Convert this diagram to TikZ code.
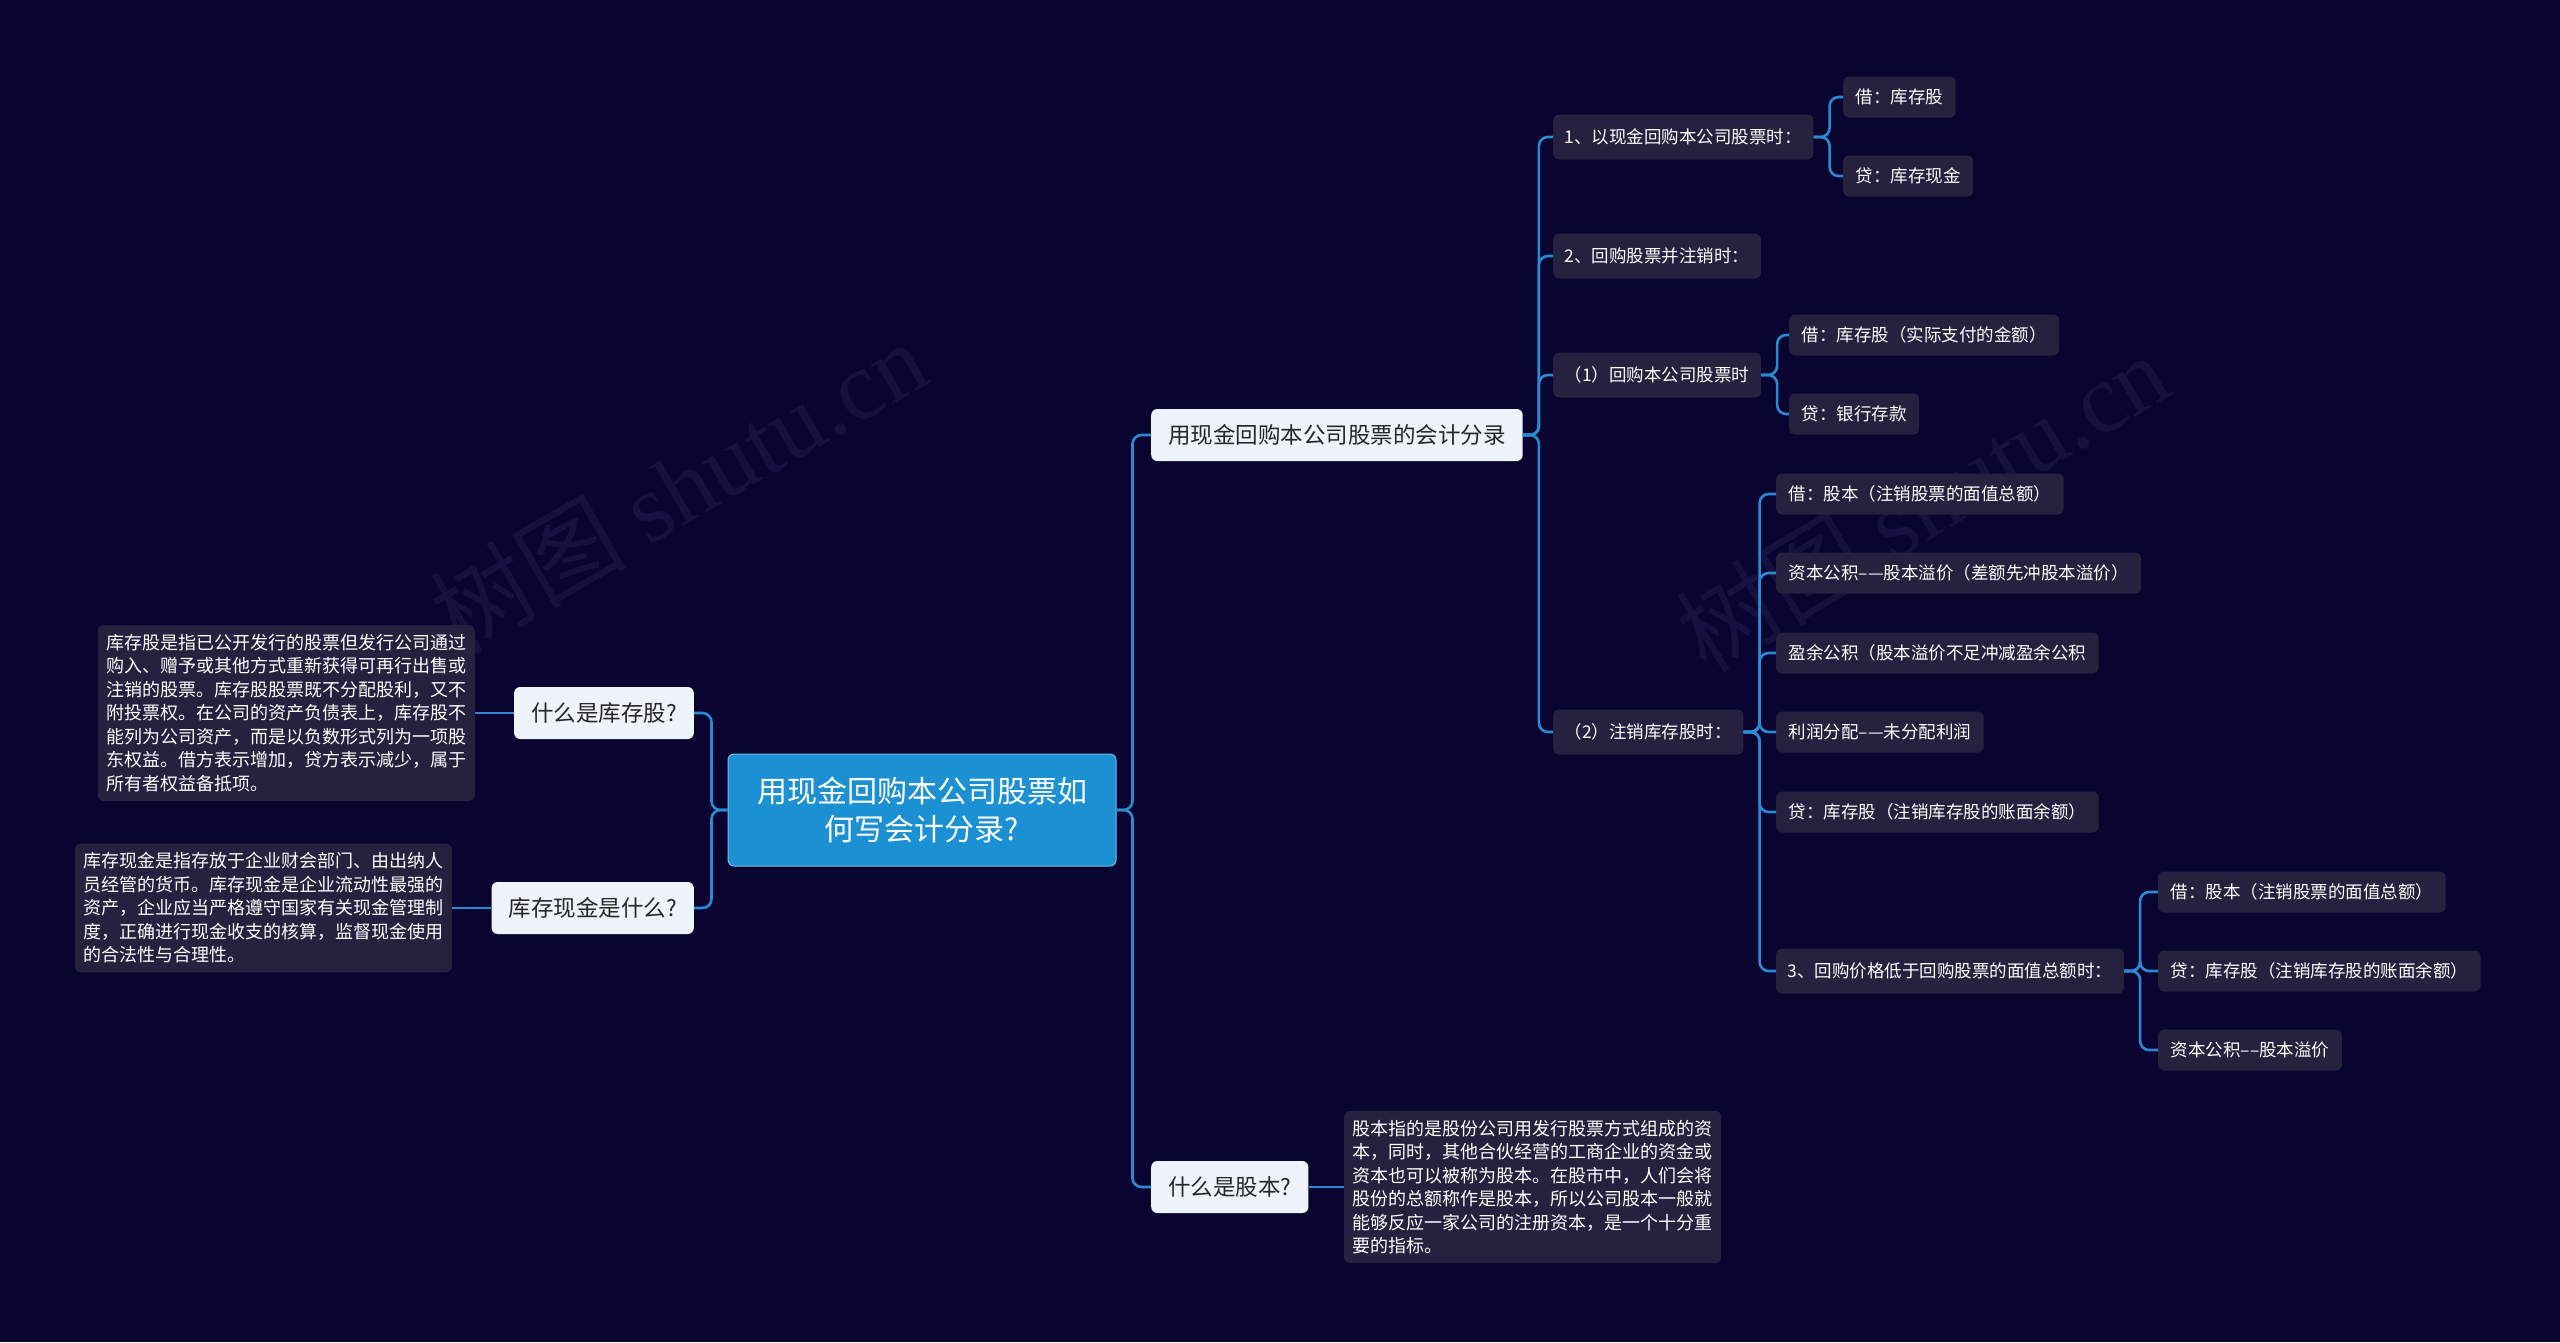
\documentclass[tikz,border=0pt]{standalone}
\usepackage{fontspec}
\setmainfont{Noto Sans CJK SC}
\newfontfamily\wmserif{Liberation Serif}
\usepackage{xcolor}

\definecolor{bgnavy}{HTML}{0A0530}
\definecolor{linkblue}{HTML}{2A8AD2}
\definecolor{rootblue}{HTML}{1B91D3}
\definecolor{subfill}{HTML}{25213F}
\definecolor{topicfill}{HTML}{EEF3FB}
\definecolor{wmark}{HTML}{16113E}

\begin{document}
\begin{tikzpicture}[x=1pt,y=-1pt,
  root/.style = {draw=rootblue!60!white, line width=1pt, fill=rootblue, rounded corners=6pt,
    text=white, align=center, font=\fontsize{30}{38}\selectfont,
    minimum width=388pt, minimum height=112pt},
  topic/.style = {fill=topicfill, rounded corners=6pt, text=black!85,
    font=\fontsize{22.5}{27}\selectfont, inner xsep=17pt, minimum height=52pt},
  sub/.style = {fill=subfill, rounded corners=6pt, text=white,
    font=\fontsize{17.5}{21}\selectfont, inner xsep=11.5pt, minimum height=45pt},
  leaf/.style = {sub, inner xsep=12.5pt, minimum height=41pt},
  desc/.style = {fill=subfill, rounded corners=6pt, text=white, align=left,
    font=\fontsize{18}{23.5}\selectfont, inner xsep=8.5pt, inner ysep=9pt},
  link/.style = {draw=linkblue, line width=2.6pt, rounded corners=9pt}]

% background and watermark
\fill[bgnavy] (0,0) rectangle (2560,1342);
\node[text=wmark, rotate=30, font=\fontsize{98}{98}\selectfont] (wm1) at (678,486) {树图 {\wmserif shutu.cn}};
\node[text=wmark, rotate=31, font=\fontsize{98}{98}\selectfont] (wm2) at (1922,502) {树图 {\wmserif shutu.cn}};

% centre
\node[root] (root) at (922,810) {用现金回购本公司股票如\\何写会计分录?};

% first level
\node[topic, anchor=west] (entry) at (1151,435) {用现金回购本公司股票的会计分录};
\node[topic, anchor=west] (capital) at (1151,1187) {什么是股本?};
\node[topic, anchor=east] (treasury) at (694,713) {什么是库存股?};
\node[topic, anchor=east] (cash) at (694,908) {库存现金是什么?};

% descriptions
\node[desc, anchor=east] (treasuryd) at (475,713) {库存股是指已公开发行的股票但发行公司通过\\购入、赠予或其他方式重新获得可再行出售或\\注销的股票。库存股股票既不分配股利，又不\\附投票权。在公司的资产负债表上，库存股不\\能列为公司资产，而是以负数形式列为一项股\\东权益。借方表示增加，贷方表示减少，属于\\所有者权益备抵项。};
\node[desc, anchor=east] (cashd) at (452,908) {库存现金是指存放于企业财会部门、由出纳人\\员经管的货币。库存现金是企业流动性最强的\\资产，企业应当严格遵守国家有关现金管理制\\度，正确进行现金收支的核算，监督现金使用\\的合法性与合理性。};
\node[desc, anchor=west] (capitald) at (1344,1187) {股本指的是股份公司用发行股票方式组成的资\\本，同时，其他合伙经营的工商企业的资金或\\资本也可以被称为股本。在股市中，人们会将\\股份的总额称作是股本，所以公司股本一般就\\能够反应一家公司的注册资本，是一个十分重\\要的指标。};

% entries
\node[sub, anchor=west] (s1) at (1553,137) {1、以现金回购本公司股票时：};
\node[sub, anchor=west] (s2) at (1553,256) {2、回购股票并注销时：};
\node[sub, anchor=west] (s2a) at (1553,375) {（1）回购本公司股票时};
\node[sub, anchor=west] (s2b) at (1553,732) {（2）注销库存股时：};

\node[leaf, anchor=west] (s1d) at (1843,97) {借：库存股};
\node[leaf, anchor=west] (s1c) at (1843,176) {贷：库存现金};
\node[leaf, anchor=west] (s2ad) at (1789,335) {借：库存股（实际支付的金额）};
\node[leaf, anchor=west] (s2ac) at (1789,414) {贷：银行存款};

\node[leaf, anchor=west] (s2b1) at (1776,494) {借：股本（注销股票的面值总额）};
\node[leaf, anchor=west] (s2b2) at (1776,573) {资本公积–—股本溢价（差额先冲股本溢价）};
\node[leaf, anchor=west] (s2b3) at (1776,653) {盈余公积（股本溢价不足冲减盈余公积};
\node[leaf, anchor=west] (s2b4) at (1776,732) {利润分配–—未分配利润};
\node[leaf, anchor=west] (s2b5) at (1776,812) {贷：库存股（注销库存股的账面余额）};
\node[sub, anchor=west] (s3) at (1776,971) {3、回购价格低于回购股票的面值总额时：};

\node[leaf, anchor=west] (s3d) at (2158,892) {借：股本（注销股票的面值总额）};
\node[leaf, anchor=west] (s3c) at (2158,971) {贷：库存股（注销库存股的账面余额）};
\node[leaf, anchor=west] (s3e) at (2158,1050) {资本公积––股本溢价};

% connectors
\foreach \c in {entry,capital}
  \draw[link] (root.east) -- ++(16,0) |- (\c.west);
\foreach \c in {treasury,cash}
  \draw[link] (root.west) -- ++(-16,0) |- (\c.east);
\draw[link] (treasury.west) -- (treasuryd.east);
\draw[link] (cash.west) -- (cashd.east);
\draw[link] (capital.east) -- (capitald.west);
\foreach \c in {s1,s2,s2a,s2b}
  \draw[link] (entry.east) -- ++(16,0) |- (\c.west);
\foreach \c in {s1d,s1c}
  \draw[link] (s1.east) -- ++(16,0) |- (\c.west);
\foreach \c in {s2ad,s2ac}
  \draw[link] (s2a.east) -- ++(16,0) |- (\c.west);
\foreach \c in {s2b1,s2b2,s2b3,s2b4,s2b5,s3}
  \draw[link] (s2b.east) -- ++(16,0) |- (\c.west);
\foreach \c in {s3d,s3c,s3e}
  \draw[link] (s3.east) -- ++(16,0) |- (\c.west);
\end{tikzpicture}
\end{document}
